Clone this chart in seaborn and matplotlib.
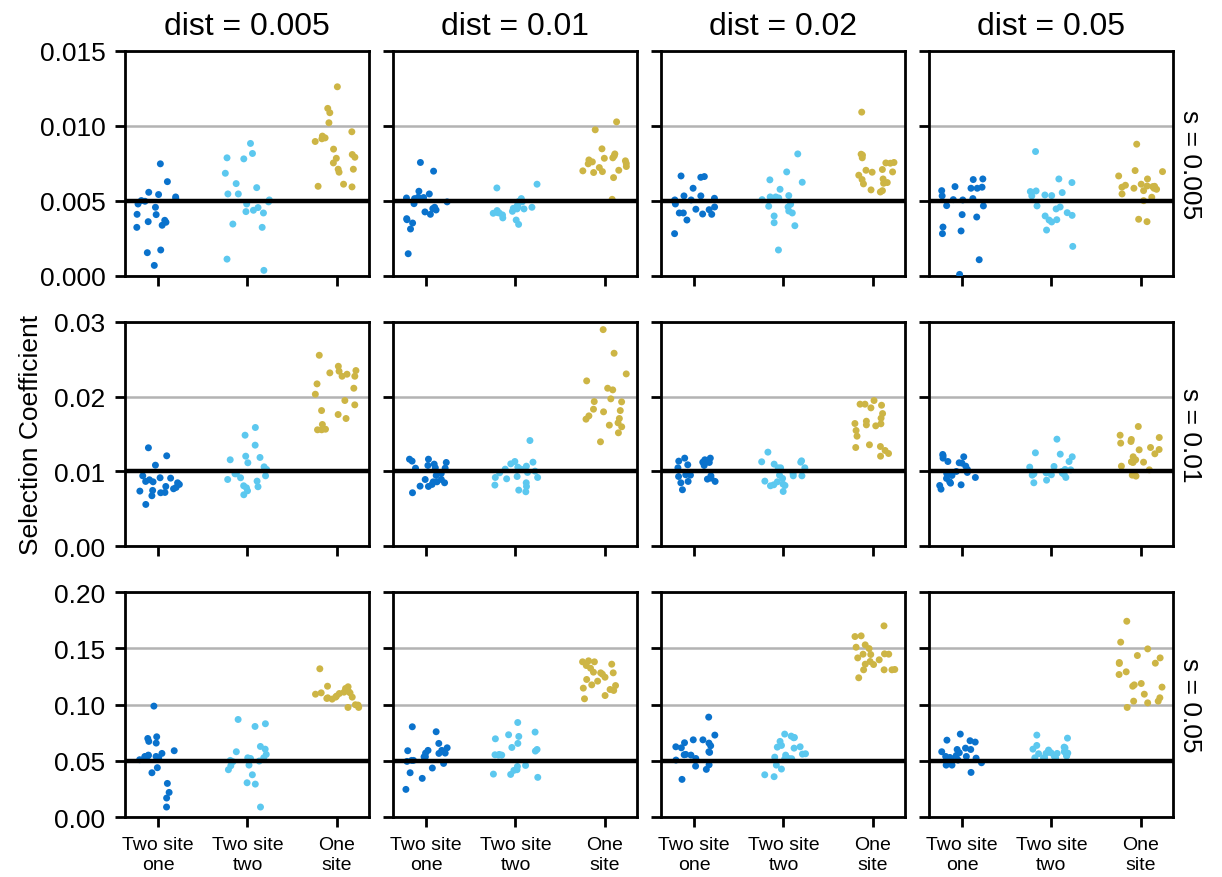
import numpy as np
import pandas as pd
import matplotlib
matplotlib.use("Agg")
import matplotlib.pyplot as plt
import seaborn as sns
from matplotlib.ticker import FormatStrFormatter, MultipleLocator

# ---------------- data ----------------
DISTS = [0.005, 0.01, 0.02, 0.05]
S_VALUES = [0.005, 0.01, 0.05]
METHODS = ["Two site\none", "Two site\ntwo", "One\nsite"]
COLORS = ["#0a72cc", "#5cc8ef", "#cdb545"]
# values are listed in units: s=0.005 and s=0.01 rows in 1e-3, s=0.05 row in 1e-2
ROW_UNIT = [1e-3, 1e-3, 1e-2]

# s = 0.005
S0005_D0005_ONE = [7.47, 6.28, 5.57, 5.42, 5.26, 5.15, 5.02, 4.97, 4.79, 4.57, 4.10, 4.08, 3.70, 3.61, 3.57, 3.37, 3.23, 1.72, 1.54, 0.69]
S0005_D0005_TWO = [8.83, 8.16, 7.87, 7.80, 6.84, 6.15, 5.88, 5.46, 5.46, 5.06, 4.93, 4.79, 4.55, 4.37, 4.28, 4.19, 3.45, 3.23, 1.11, 0.36]
S0005_D0005_SGL = [12.61, 11.17, 10.88, 10.21, 9.61, 9.32, 9.20, 9.14, 8.96, 8.45, 8.09, 7.91, 7.84, 7.53, 7.11, 7.11, 6.91, 6.11, 5.97, 5.93]
S0005_D001_ONE = [7.56, 6.98, 5.64, 5.46, 5.24, 5.22, 5.19, 5.15, 4.93, 4.81, 4.57, 4.48, 4.39, 4.26, 4.10, 3.81, 3.74, 3.52, 3.12, 1.47]
S0005_D001_TWO = [6.11, 5.86, 5.15, 4.97, 4.93, 4.70, 4.59, 4.57, 4.50, 4.46, 4.46, 4.35, 4.30, 4.21, 4.19, 4.17, 4.06, 3.86, 3.72, 3.43]
S0005_D001_SGL = [10.27, 9.74, 8.47, 8.13, 8.00, 7.87, 7.84, 7.73, 7.67, 7.60, 7.49, 7.47, 7.29, 7.22, 7.04, 7.00, 6.95, 6.89, 6.55, 5.10]
S0005_D002_ONE = [6.66, 6.62, 6.57, 5.84, 5.33, 5.33, 5.17, 5.06, 5.06, 4.99, 4.79, 4.59, 4.44, 4.41, 4.19, 4.19, 4.12, 4.10, 3.72, 2.81]
S0005_D002_TWO = [8.13, 6.93, 6.40, 6.24, 5.77, 5.35, 5.26, 5.26, 5.19, 5.19, 5.08, 4.77, 4.64, 4.59, 4.32, 4.19, 3.99, 3.54, 3.34, 1.72]
S0005_D002_SGL = [10.92, 8.11, 8.05, 7.87, 7.56, 7.53, 7.51, 7.09, 7.04, 6.93, 6.91, 6.71, 6.46, 6.42, 6.22, 6.17, 6.13, 5.73, 5.68, 5.59]
S0005_D005_ONE = [6.46, 6.42, 5.95, 5.91, 5.84, 5.84, 5.68, 5.33, 5.15, 5.08, 5.06, 4.68, 4.66, 4.08, 3.92, 3.25, 2.99, 2.81, 1.07, 0.09]
S0005_D005_TWO = [8.29, 6.46, 6.22, 5.66, 5.62, 5.55, 5.39, 5.35, 5.33, 4.66, 4.59, 4.46, 4.21, 4.03, 3.99, 3.74, 3.72, 3.59, 3.05, 1.96]
S0005_D005_SGL = [8.78, 7.02, 6.95, 6.66, 6.46, 6.11, 6.04, 5.99, 5.97, 5.95, 5.91, 5.84, 5.84, 5.77, 5.68, 5.46, 5.24, 5.01, 3.77, 3.61]

# s = 0.01
S001_D0005_ONE = [13.16, 12.09, 10.84, 9.42, 9.16, 9.11, 8.89, 8.67, 8.62, 8.49, 8.27, 8.00, 7.87, 7.69, 7.47, 7.38, 7.20, 7.16, 6.76, 5.60]
S001_D0005_TWO = [15.87, 14.84, 13.51, 12.04, 11.87, 11.56, 11.16, 10.62, 10.27, 9.69, 9.69, 9.42, 9.16, 8.93, 8.71, 8.09, 7.96, 7.82, 7.42, 6.89]
S001_D0005_SGL = [25.51, 24.04, 23.47, 23.38, 23.16, 22.98, 22.71, 22.71, 21.69, 21.11, 20.31, 19.47, 18.89, 18.13, 17.60, 17.07, 16.27, 15.64, 15.56, 15.56]
S001_D001_ONE = [11.64, 11.64, 11.38, 11.20, 10.98, 10.80, 10.49, 10.44, 10.44, 9.73, 9.47, 8.93, 8.93, 8.62, 8.62, 8.49, 8.27, 8.04, 8.00, 7.16]
S001_D001_TWO = [14.13, 11.33, 11.24, 11.02, 10.71, 10.58, 10.31, 10.31, 10.04, 9.87, 9.82, 9.33, 9.20, 9.20, 9.02, 8.49, 8.18, 8.00, 7.51, 7.29]
S001_D001_SGL = [28.93, 25.78, 23.02, 22.09, 21.11, 20.89, 19.69, 19.33, 19.29, 18.31, 18.13, 17.96, 17.42, 17.07, 16.98, 16.49, 16.18, 15.96, 15.16, 13.96]
S001_D002_ONE = [11.78, 11.78, 11.56, 11.38, 11.24, 11.20, 10.98, 10.89, 10.80, 10.49, 9.56, 9.51, 9.42, 9.33, 9.11, 8.98, 8.67, 8.67, 8.49, 7.56]
S001_D002_TWO = [12.58, 11.42, 11.29, 11.24, 10.98, 10.49, 10.49, 10.49, 9.69, 9.51, 9.42, 9.42, 9.07, 8.71, 8.62, 8.31, 8.22, 8.13, 8.09, 7.33]
S001_D002_SGL = [19.47, 18.98, 18.98, 18.84, 18.49, 17.73, 17.11, 16.71, 16.40, 16.36, 16.22, 16.09, 15.47, 14.71, 13.56, 13.33, 13.20, 12.80, 12.40, 12.04]
S001_D005_ONE = [12.27, 12.09, 11.96, 11.78, 11.33, 11.16, 11.11, 10.71, 10.27, 10.00, 9.87, 9.73, 9.47, 9.20, 9.07, 8.62, 8.44, 8.22, 8.13, 7.64]
S001_D005_TWO = [14.31, 12.49, 12.31, 11.96, 11.33, 10.67, 10.58, 10.27, 10.22, 10.00, 9.87, 9.82, 9.78, 9.69, 9.60, 9.56, 9.51, 9.20, 8.84, 8.49]
S001_D005_SGL = [16.00, 14.84, 14.53, 14.27, 14.00, 13.78, 13.20, 12.93, 12.89, 12.36, 11.96, 11.56, 11.29, 11.29, 11.24, 11.20, 10.71, 10.22, 9.51, 9.38]

# s = 0.05
S005_D0005_ONE = [9.87, 7.14, 6.99, 6.73, 6.58, 5.90, 5.66, 5.51, 5.45, 5.39, 5.39, 5.30, 5.27, 5.10, 4.39, 3.94, 2.99, 2.19, 1.69, 0.89]
S005_D0005_TWO = [8.68, 8.30, 8.06, 6.28, 6.04, 5.81, 5.57, 5.27, 5.27, 5.21, 5.04, 4.98, 4.92, 4.62, 4.56, 4.21, 3.76, 3.05, 2.93, 0.89]
S005_D0005_SGL = [13.19, 11.64, 11.59, 11.44, 11.17, 11.11, 11.05, 11.05, 10.99, 10.93, 10.76, 10.67, 10.67, 10.61, 10.55, 10.49, 9.99, 9.96, 9.75, 9.75]
S005_D001_ONE = [8.03, 7.59, 6.55, 6.16, 5.93, 5.93, 5.90, 5.69, 5.69, 5.66, 5.36, 5.36, 5.04, 5.04, 4.95, 4.77, 4.36, 3.94, 3.44, 2.46]
S005_D001_TWO = [8.41, 7.56, 7.32, 7.17, 6.96, 6.55, 6.19, 6.01, 5.87, 5.57, 5.54, 5.51, 5.51, 4.59, 4.50, 4.21, 4.15, 3.82, 3.79, 3.53]
S005_D001_SGL = [13.90, 13.81, 13.81, 13.60, 13.48, 13.24, 12.89, 12.83, 12.83, 12.71, 12.44, 12.24, 12.09, 11.76, 11.70, 11.47, 11.35, 11.26, 10.81, 10.52]
S005_D002_ONE = [8.89, 7.29, 6.87, 6.87, 6.61, 6.58, 6.34, 6.25, 6.16, 5.81, 5.75, 5.57, 5.54, 5.51, 5.21, 5.07, 4.65, 4.53, 4.24, 3.35]
S005_D002_TWO = [7.38, 7.20, 7.08, 7.05, 6.73, 6.37, 6.25, 6.22, 6.13, 5.63, 5.60, 5.51, 5.33, 5.21, 5.19, 5.16, 4.62, 4.27, 3.76, 3.59]
S005_D002_SGL = [17.01, 16.12, 16.06, 15.32, 15.11, 14.99, 14.52, 14.49, 14.49, 14.46, 14.16, 13.99, 13.84, 13.60, 13.57, 13.13, 13.10, 13.10, 13.10, 12.39]
S005_D005_ONE = [7.38, 6.84, 6.79, 6.67, 6.13, 6.01, 6.01, 5.81, 5.72, 5.48, 5.39, 5.39, 5.30, 5.24, 5.19, 5.07, 4.83, 4.62, 4.62, 3.97]
S005_D005_TWO = [7.29, 7.02, 6.37, 6.22, 6.16, 6.04, 5.96, 5.81, 5.72, 5.69, 5.66, 5.66, 5.63, 5.45, 5.45, 5.39, 5.27, 5.27, 5.27, 5.27]
S005_D005_SGL = [17.42, 15.56, 14.96, 14.37, 14.16, 13.75, 13.69, 13.66, 12.92, 12.68, 11.88, 11.76, 11.64, 11.56, 10.93, 10.61, 10.31, 10.31, 10.16, 9.75]

PANELS = [
    [(S0005_D0005_ONE, S0005_D0005_TWO, S0005_D0005_SGL),
     (S0005_D001_ONE, S0005_D001_TWO, S0005_D001_SGL),
     (S0005_D002_ONE, S0005_D002_TWO, S0005_D002_SGL),
     (S0005_D005_ONE, S0005_D005_TWO, S0005_D005_SGL)],
    [(S001_D0005_ONE, S001_D0005_TWO, S001_D0005_SGL),
     (S001_D001_ONE, S001_D001_TWO, S001_D001_SGL),
     (S001_D002_ONE, S001_D002_TWO, S001_D002_SGL),
     (S001_D005_ONE, S001_D005_TWO, S001_D005_SGL)],
    [(S005_D0005_ONE, S005_D0005_TWO, S005_D0005_SGL),
     (S005_D001_ONE, S005_D001_TWO, S005_D001_SGL),
     (S005_D002_ONE, S005_D002_TWO, S005_D002_SGL),
     (S005_D005_ONE, S005_D005_TWO, S005_D005_SGL)],
]

records = []
for ri, s in enumerate(S_VALUES):
    for ci, d in enumerate(DISTS):
        for mi, m in enumerate(METHODS):
            for v in PANELS[ri][ci][mi]:
                records.append({"s": s, "dist": d, "method": m, "value": v * ROW_UNIT[ri]})
df = pd.DataFrame(records)

# ---------------- plotting ----------------
np.random.seed(3)
sns.set_style("ticks")
plt.rcParams["font.family"] = ["Liberation Sans", "DejaVu Sans"]
plt.rcParams["text.color"] = "black"
plt.rcParams["axes.labelcolor"] = "black"
plt.rcParams["axes.linewidth"] = 1.0
plt.rcParams["xtick.major.width"] = 1.0
plt.rcParams["ytick.major.width"] = 1.0
plt.rcParams["xtick.major.size"] = 3.5
plt.rcParams["ytick.major.size"] = 3.5
plt.rcParams["axes.edgecolor"] = "black"
plt.rcParams["xtick.color"] = "black"
plt.rcParams["ytick.color"] = "black"

g = sns.catplot(
    data=df, x="method", y="value", hue="method",
    order=METHODS, hue_order=METHODS, palette=COLORS,
    col="dist", row="s", col_order=DISTS, row_order=S_VALUES,
    kind="strip", jitter=0.25, size=2.5, linewidth=0,
    sharey="row", margin_titles=True, legend=False,
    height=2, aspect=1.1,
)
g.figure.set_size_inches(6.11, 4.39)
g.figure.subplots_adjust(left=0.1023, right=0.9599, top=0.9408, bottom=0.0683,
                         wspace=0.098, hspace=0.204)

# clear default titles and set our own
for ax in g.axes.flat:
    ax.set_title("")
for t in list(g._margin_titles_texts):
    t.remove()
g._margin_titles_texts = []
g.set_titles(col_template="dist = {col_name}", row_template="s = {row_name}")

YLIMS = [(0, 0.015), (0, 0.03), (0, 0.20)]
YSTEPS = [0.005, 0.01, 0.05]
YFMTS = ["%.3f", "%.2f", "%.2f"]

for ri, s in enumerate(S_VALUES):
    for ci in range(len(DISTS)):
        ax = g.axes[ri, ci]
        ax.set_ylim(*YLIMS[ri])
        ax.yaxis.set_major_locator(MultipleLocator(YSTEPS[ri]))
        ax.yaxis.set_major_formatter(FormatStrFormatter(YFMTS[ri]))
        ax.set_xlim(-0.37, 2.36)
        ax.yaxis.grid(True, color="#b3b3b3", linewidth=0.9, zorder=0)
        ax.set_axisbelow(True)
        ax.axhline(s, color="black", linewidth=1.6, zorder=5)
        for sp in ax.spines.values():
            sp.set_visible(True)
            sp.set_linewidth(1.0)
            sp.set_color("black")
        ax.set_xlabel("")
        ax.set_ylabel("")
        ax.tick_params(axis="y", labelsize=9.5, length=3.5, width=1.0, colors="black")
        ax.tick_params(axis="x", labelsize=7, length=3.5, width=1.0, colors="black")
        if ri == 0:
            ax.title.set_fontsize(11.5)
            ax.title.set_color("black")

for t in g._margin_titles_texts:
    t.set_fontsize(9.5)
    t.set_color("black")

g.axes[1, 0].set_ylabel("Selection Coefficient", fontsize=9.5, color="black")

g.figure.savefig("out.png", dpi=200)
